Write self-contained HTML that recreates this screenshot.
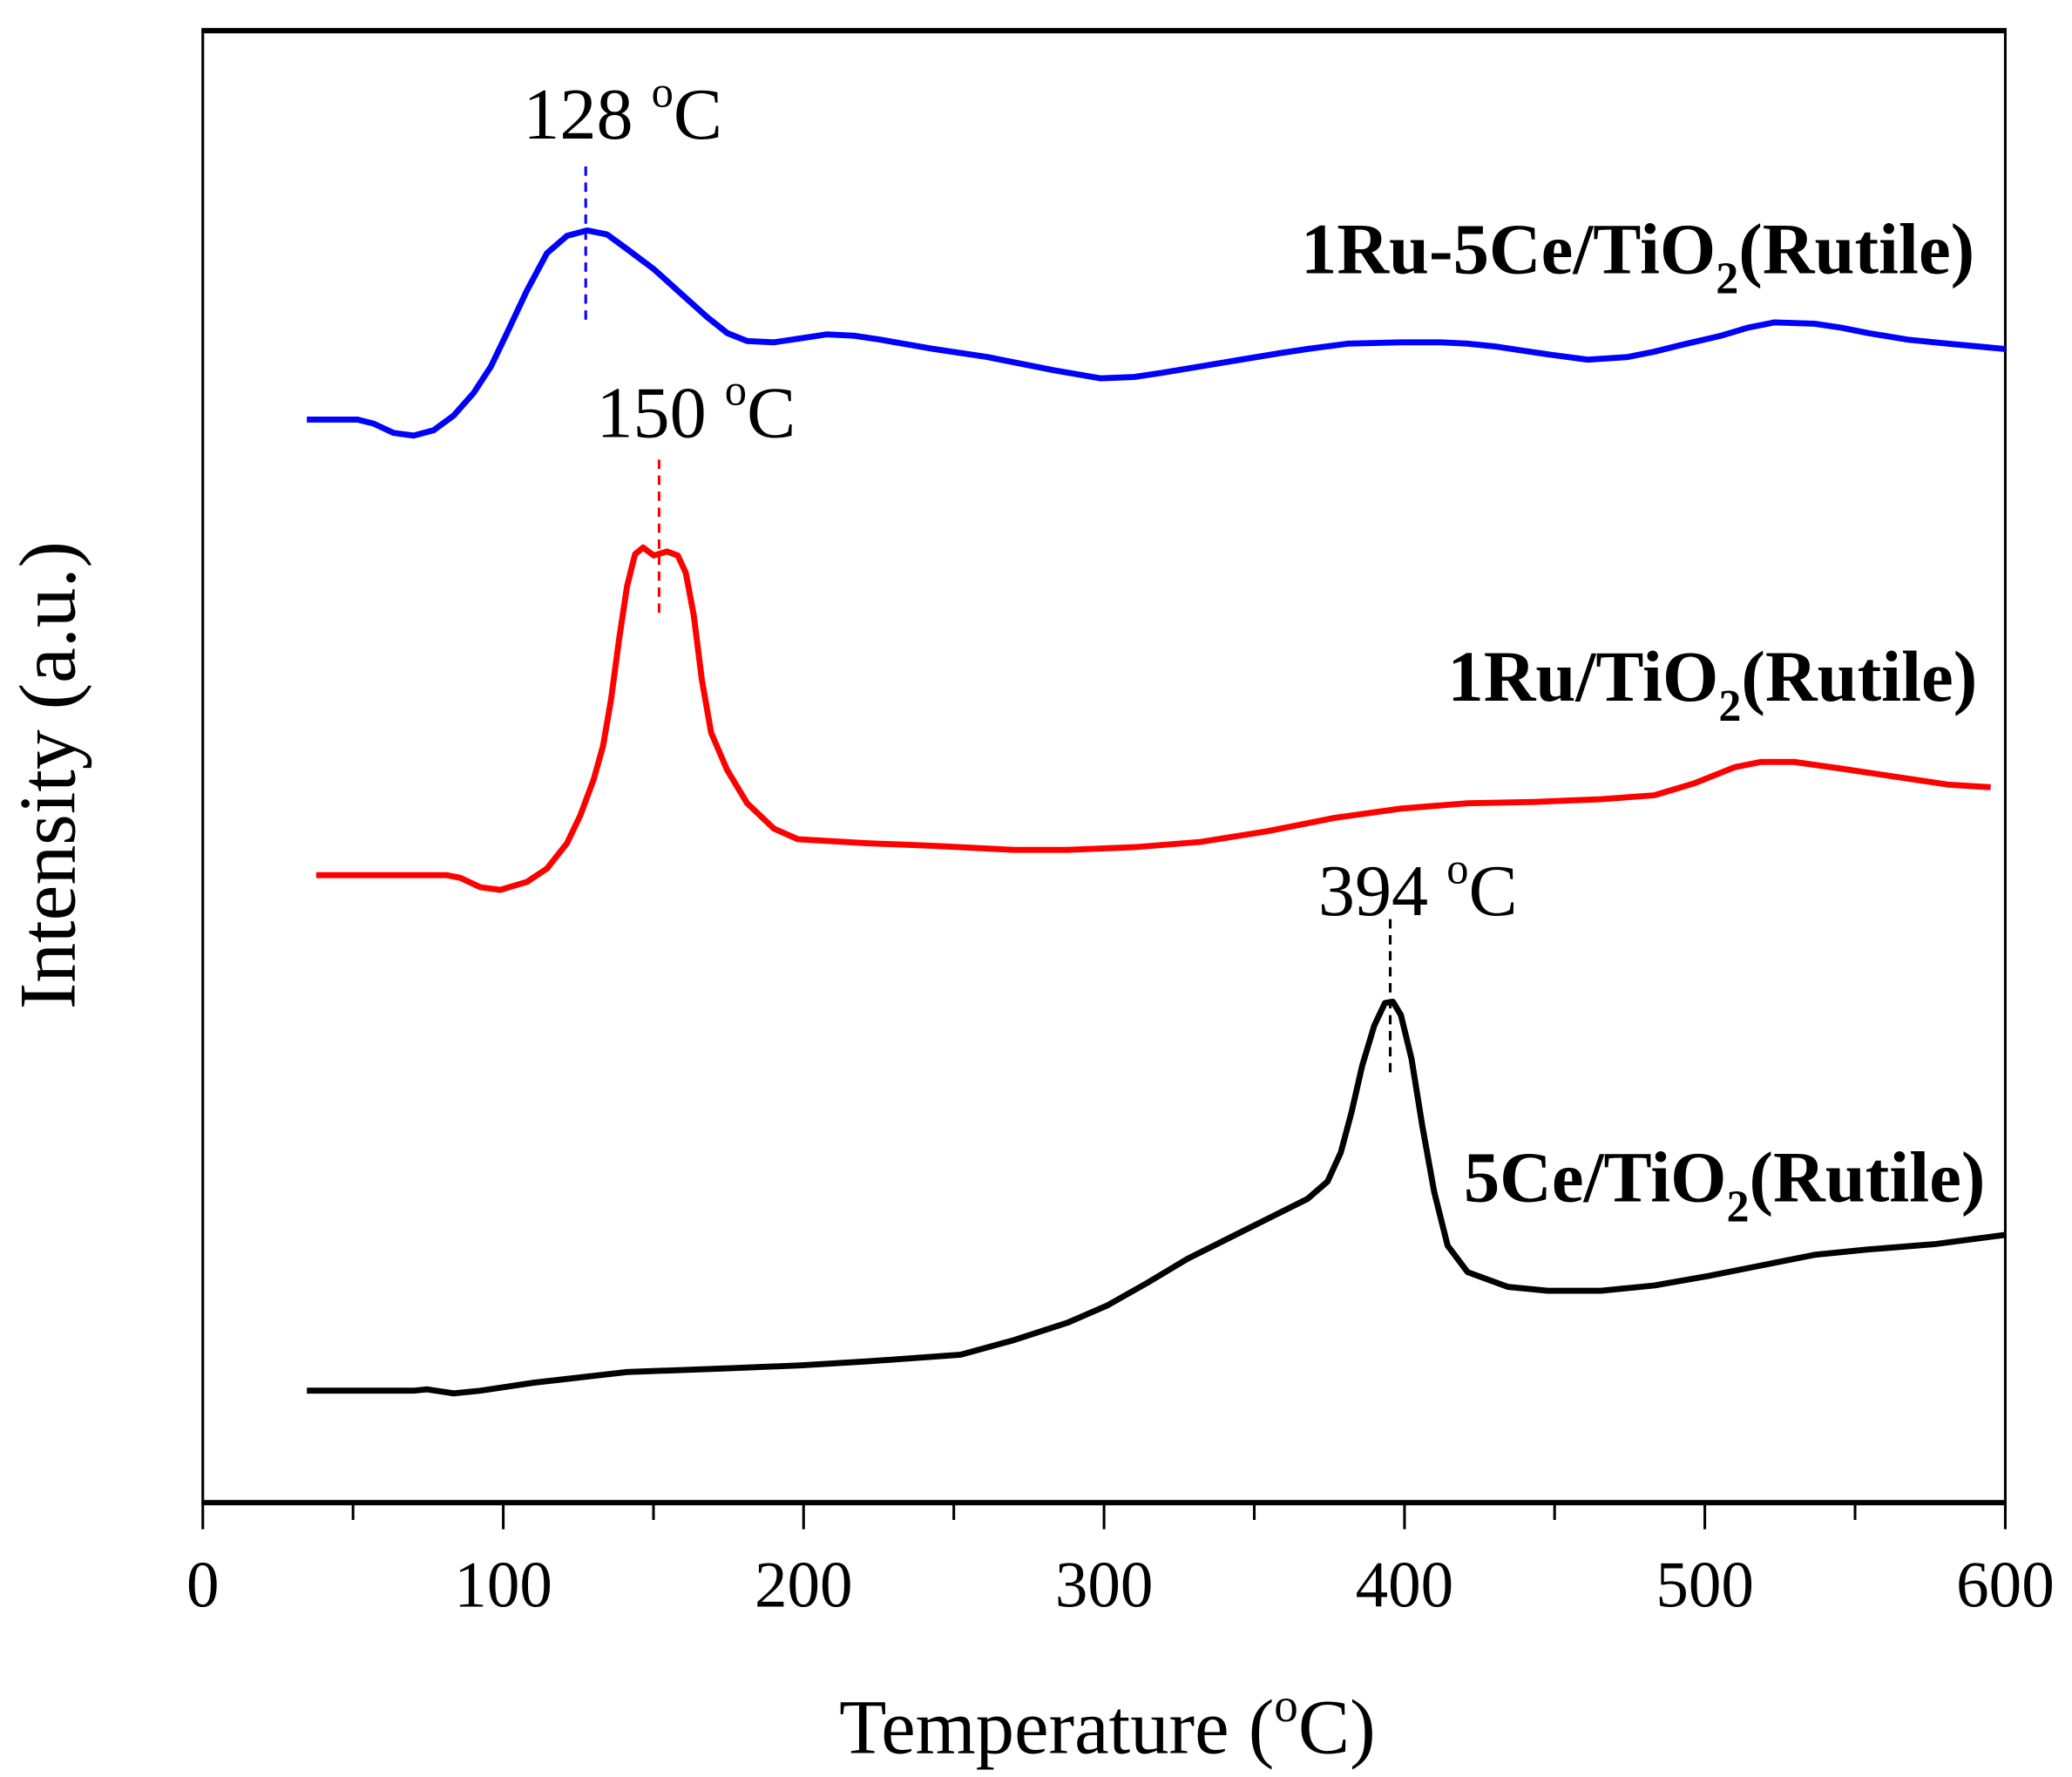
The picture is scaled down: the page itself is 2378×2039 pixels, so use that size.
<!DOCTYPE html>
<html><head><meta charset="utf-8"><style>
html,body{margin:0;padding:0;background:#fff;}
svg{display:block;}
text{font-family:"Liberation Serif",serif;}
</style></head><body>
<svg width="2378" height="2039" viewBox="0 0 1553 1334" preserveAspectRatio="none" xmlns="http://www.w3.org/2000/svg">
<rect width="1553" height="1334" fill="#fff"/>
<rect x="152" y="23" width="1351" height="1105" fill="none" stroke="#000" stroke-width="2"/>
<line x1="151" y1="23" x2="1504" y2="23" stroke="#000" stroke-width="4"/>
<line x1="151" y1="1128" x2="1504" y2="1128" stroke="#000" stroke-width="4"/>
<g stroke="#000" stroke-width="2">
<line x1="152" y1="1128" x2="152" y2="1148"/>
<line x1="377.2" y1="1128" x2="377.2" y2="1148"/>
<line x1="602.3" y1="1128" x2="602.3" y2="1148"/>
<line x1="827.5" y1="1128" x2="827.5" y2="1148"/>
<line x1="1052.7" y1="1128" x2="1052.7" y2="1148"/>
<line x1="1277.8" y1="1128" x2="1277.8" y2="1148"/>
<line x1="1503" y1="1128" x2="1503" y2="1148"/>
<line x1="264.6" y1="1128" x2="264.6" y2="1141"/>
<line x1="489.8" y1="1128" x2="489.8" y2="1141"/>
<line x1="714.9" y1="1128" x2="714.9" y2="1141"/>
<line x1="940.1" y1="1128" x2="940.1" y2="1141"/>
<line x1="1165.2" y1="1128" x2="1165.2" y2="1141"/>
<line x1="1390.4" y1="1128" x2="1390.4" y2="1141"/>
</g>
<g font-size="49" text-anchor="middle" fill="#000">
<text x="152" y="1206">0</text>
<text x="377.2" y="1206">100</text>
<text x="602.3" y="1206">200</text>
<text x="827.5" y="1206">300</text>
<text x="1052.7" y="1206">400</text>
<text x="1277.8" y="1206">500</text>
<text x="1503" y="1206">600</text>
</g>
<text x="830" y="1316" font-size="58" text-anchor="middle">Temperature (<tspan font-size="36" dy="-24">o</tspan><tspan dy="24">C)</tspan></text>
<text transform="translate(56,582) rotate(-90)" font-size="60" text-anchor="middle">Intensity (a.u.)</text>
<polyline fill="none" stroke="#0000ff" stroke-width="4.5" stroke-linejoin="round" points="230,315 268,315 280,318 295,325 310,327 325,323 340,312 355,295 368,275 380,250 395,218 410,190 425,177 440,173 455,176 470,187 490,202 510,220 530,238 545,250 560,256 580,257 600,254 620,251 640,252 660,255 700,262 740,268 760,272 790,278 825,284 850,283 870,280 900,275 930,270 960,265 980,262 1010,258 1050,257 1080,257 1100,258 1120,260 1140,263 1160,266 1190,270 1220,268 1240,264 1260,259 1290,252 1310,246 1330,242 1360,243 1380,246 1400,250 1430,255 1460,258 1503,262"/>
<polyline fill="none" stroke="#ff0000" stroke-width="4.5" stroke-linejoin="round" points="237,657 335,657 345,659 360,666 375,668 395,662 410,652 425,633 435,612 445,585 452,560 458,525 464,480 470,440 476,416 482,411 490,417 500,414 508,417 514,430 520,462 526,510 533,550 545,578 560,603 580,622 598,630 650,633 700,635 760,638 800,638 850,636 900,632 950,624 1000,614 1050,607 1100,603 1150,602 1200,600 1240,597 1270,588 1300,576 1320,572 1345,572 1380,577 1420,583 1460,589 1492,591"/>
<polyline fill="none" stroke="#000" stroke-width="4.5" stroke-linejoin="round" points="230,1044 310,1044 320,1043 340,1046 360,1044 400,1038 470,1030 550,1027 600,1025 650,1022 720,1017 760,1006 800,993 830,980 860,963 890,945 920,930 950,915 980,900 995,887 1005,865 1013,835 1021,800 1030,770 1038,753 1044,752 1050,762 1058,795 1066,845 1075,895 1085,935 1100,955 1130,966 1160,969 1200,969 1240,965 1280,958 1320,950 1360,942 1400,938 1450,934 1503,927"/>
<line x1="439" y1="125" x2="439" y2="242" stroke="#0000ff" stroke-width="2" stroke-dasharray="7,5"/>
<line x1="494" y1="345" x2="494" y2="462" stroke="#ff0000" stroke-width="2" stroke-dasharray="7,5"/>
<line x1="1042" y1="690" x2="1042" y2="810" stroke="#000" stroke-width="2" stroke-dasharray="7,5"/>
<g font-size="55" fill="#000">
<text x="392" y="104">128 <tspan font-size="33" dy="-24">o</tspan><tspan dy="24">C</tspan></text>
<text x="447" y="328">150 <tspan font-size="33" dy="-24">o</tspan><tspan dy="24">C</tspan></text>
<text x="988" y="687">394 <tspan font-size="33" dy="-24">o</tspan><tspan dy="24">C</tspan></text>
</g>
<g font-size="54" font-weight="bold" text-anchor="end" fill="#000">
<text x="1480" y="205">1Ru-5Ce/TiO<tspan font-size="34" dy="15">2</tspan><tspan dy="-15">(Rutile)</tspan></text>
<text x="1482" y="526">1Ru/TiO<tspan font-size="34" dy="15">2</tspan><tspan dy="-15">(Rutile)</tspan></text>
<text x="1488" y="902">5Ce/TiO<tspan font-size="34" dy="15">2</tspan><tspan dy="-15">(Rutile)</tspan></text>
</g>
</svg>
</body></html>
